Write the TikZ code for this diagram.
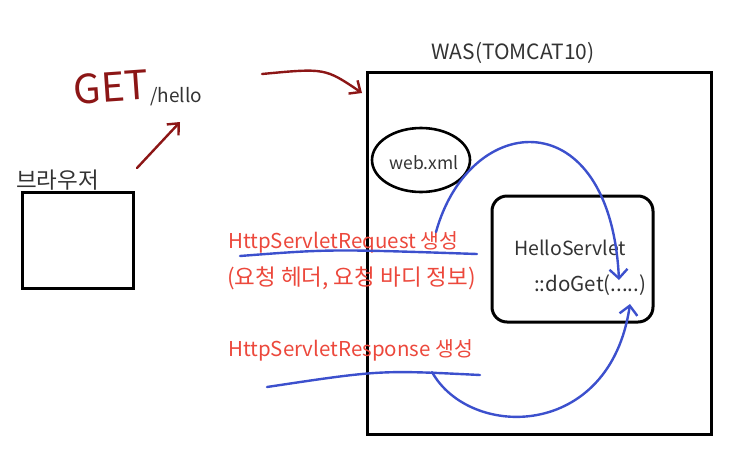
\documentclass[tikz,border=0pt]{standalone}
\usepackage{fontspec}
\setmainfont{Noto Sans CJK KR}
\usepackage{tikz}
\usetikzlibrary{shapes.geometric, arrows.meta, positioning}
\definecolor{pendred}{RGB}{140,22,22}
\definecolor{penblue}{RGB}{60,80,205}
\definecolor{notered}{RGB}{236,72,60}
\tikzstyle{box} = [draw=black, line width=3pt]
\tikzstyle{label} = [text=black!80, font=\fontsize{18}{21}\selectfont, inner sep=0pt]
\tikzstyle{note} = [text=notered, font=\fontsize{20.5}{24}\selectfont, inner sep=0pt, anchor=west]
\tikzstyle{redpen} = [draw=pendred, line width=2.4pt, line cap=round, -{Straight Barb[length=9pt,width=16pt]}]
\tikzstyle{bluepen} = [draw=penblue, line width=2.4pt, line cap=round]
\tikzstyle{bluearrow} = [bluepen, -{Straight Barb[length=9pt,width=18pt]}]

\begin{document}
\begin{tikzpicture}[x=1pt,y=-1pt]
        \useasboundingbox (0,0) rectangle (734,456);

        % browser
        \draw[box] (22,192) rectangle (133,288);
        \coordinate (browser) at (22,192);
        \node[label, anchor=south west, font=\fontsize{22.5}{24}\selectfont] (browser-label) at (16,190) {브라우저};

        % request
        \node[text=pendred, font=\fontsize{40}{40}\selectfont\itshape, rotate=4] (get) at (111,87) {GET};
        \node[label, anchor=west, font=\fontsize{19}{21}\selectfont] (hello) at (150,97) {/hello};
        \coordinate (req-from) at (137,168);
        \coordinate (req-to) at (180,122);
        \draw[redpen] (req-from) -- (req-to);

        % WAS
        \draw[box] (367,72) rectangle (711,434);
        \node[label, font=\fontsize{21}{24}\selectfont] (was) at (513,53) {WAS(TOMCAT10)};
        \coordinate (was-in) at (362,93);
        \coordinate (send-from) at (262,74);
        \draw[redpen] (send-from) .. controls (325,68) .. (was-in);

        \node[draw=black, line width=2.6pt, ellipse, minimum width=98pt, minimum height=64pt, inner sep=0pt] (webxml) at (421,160) {};
        \node[label, font=\fontsize{17.5}{20}\selectfont] (webxml-text) at (424,163) {web.xml};

        \draw[box, rounded corners=15pt] (492,196) rectangle (653,322);
        \node[label, anchor=west, font=\fontsize{19.5}{22}\selectfont] (servlet) at (514,248) {HelloServlet};
        \node[label, anchor=west, font=\fontsize{20.5}{22}\selectfont] (doget) at (534,285) {::doGet(.....)};

        % notes
        \node[note] (req-note) at (228,242) {HttpServletRequest 생성};
        \node[note, font=\fontsize{22.5}{24}\selectfont] (req-info) at (227,278) {(요청 헤더, 요청 바디 정보)};
        \node[note] (res-note) at (228,350) {HttpServletResponse 생성};

        % blue pen
        \coordinate (req-a) at (240,256);
        \coordinate (req-b) at (477,254);
        \coordinate (res-a) at (267,387);
        \coordinate (res-b) at (480,375);
        \draw[bluepen] (req-a) .. controls (330,249) .. (req-b);
        \draw[bluepen] (res-a) .. controls (380,370) .. (res-b);

        \coordinate (req-start) at (436,232);
        \coordinate (doget-in) at (619,280);
        \coordinate (res-start) at (432,372);
        \coordinate (doget-out) at (630,304);
        \draw[bluearrow] (req-start) .. controls (470,110) and (610,100) .. (doget-in);
        \draw[bluearrow] (res-start) .. controls (470,440) and (610,440) .. (doget-out);
\end{tikzpicture}
\end{document}
